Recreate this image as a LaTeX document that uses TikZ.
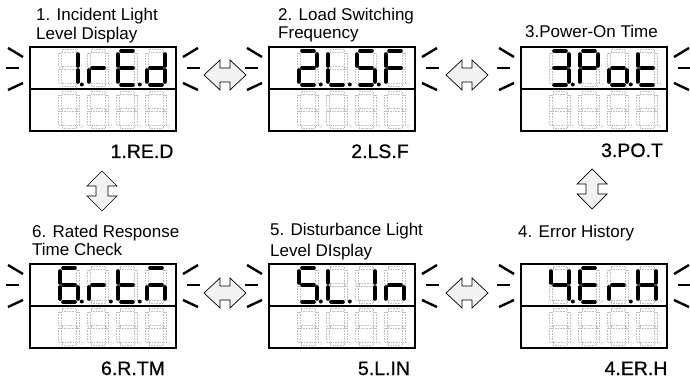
\documentclass[tikz,border=0pt]{standalone}
\usepackage{fontspec}
\setmainfont{Liberation Sans}
\newfontfamily\codefont[FakeBold=0.7]{Liberation Sans}
\tikzset{
  panel/.style={draw, line width=2.6pt, minimum width=146pt, minimum height=84pt, inner sep=0pt, outer sep=0pt, anchor=north west},
  divider/.style={line width=2.4pt},
  ray/.style={line width=2.4pt},
  litseg/.style={line width=3.6pt, line cap=round},
  unlitseg/.style={line width=0.5pt, gray!50, dash pattern=on 0.6pt off 1pt},
  fatarrow/.style={draw, line width=0.7pt, fill=gray!10, line join=miter},
  title/.style={font=\fontsize{17}{19}\selectfont, inner sep=0pt, anchor=base west},
  code/.style={font=\codefont\fontsize{19.5}{22}\selectfont, inner sep=0pt, anchor=base},
}
\makeatletter
\newcommand\sgm[3]{\ifnum#1=1 \draw[litseg] #2;\else\draw[unlitseg] #3;\fi}
\def\seg@draw#1#2#3#4#5#6#7#8\relax{%
  \sgm{#1}{(3,0)--(15,0)}{(2,-1.5) rectangle (16,1.5)}%
  \sgm{#2}{(18,3)--(18,15)}{(16.5,2) rectangle (19.5,16)}%
  \sgm{#3}{(18,19)--(18,31)}{(16.5,18) rectangle (19.5,32)}%
  \sgm{#4}{(3,34)--(15,34)}{(2,32.5) rectangle (16,35.5)}%
  \sgm{#5}{(0,19)--(0,31)}{(-1.5,18) rectangle (1.5,32)}%
  \sgm{#6}{(0,3)--(0,15)}{(-1.5,2) rectangle (1.5,16)}%
  \sgm{#7}{(3,17)--(15,17)}{(2,15.5) rectangle (16,18.5)}%
  \ifnum#8=1 \fill (21.8,33.5) circle (2);\else\draw[unlitseg] (21.8,33.5) circle (1.7);\fi
}
\newcommand\segdigit[3]{\begin{scope}[shift={(#1,#2)}]\seg@draw#3\relax\end{scope}}
\makeatother
\newcommand\panelbox[7]{%
  \node[panel] (#1) at (#2,#3) {};
  \draw[divider] (#1.west) -- (#1.east);
  \segdigit{#2+30}{#3+4}{#4}
  \segdigit{#2+59}{#3+4}{#5}
  \segdigit{#2+88}{#3+4}{#6}
  \segdigit{#2+117}{#3+4}{#7}
  \foreach \k in {30,59,88,117} {\segdigit{#2+\k}{#3+46}{00000000}}
  \draw[ray] (#2-22,#3+1) -- (#2-7,#3+10);
  \draw[ray] (#2-24,#3+21) -- (#2-11,#3+21);
  \draw[ray] (#2-22,#3+43) -- (#2-7,#3+36);
  \draw[ray] (#2+153,#3+10) -- (#2+168,#3+1);
  \draw[ray] (#2+157,#3+21) -- (#2+170,#3+21);
  \draw[ray] (#2+153,#3+36) -- (#2+168,#3+43);
}
\newcommand\hdbl[2]{\draw[fatarrow] (#1-21,#2) -- (#1-5,#2-15) -- (#1-5,#2-7) -- (#1+5,#2-7) -- (#1+5,#2-15) -- (#1+21,#2) -- (#1+5,#2+15) -- (#1+5,#2+7) -- (#1-5,#2+7) -- (#1-5,#2+15) -- cycle;}
\newcommand\vdbl[2]{\draw[fatarrow] (#1,#2-20) -- (#1+15,#2-5) -- (#1+6,#2-5) -- (#1+6,#2+5) -- (#1+15,#2+5) -- (#1,#2+20) -- (#1-15,#2+5) -- (#1-6,#2+5) -- (#1-6,#2-5) -- (#1-15,#2-5) -- cycle;}
\begin{document}
\begin{tikzpicture}[x=1pt,y=-1pt]
\useasboundingbox (0,0) rectangle (690,379);
% panels
\panelbox{p1}{30}{47}{01100001}{00001010}{10011111}{01111010}
\panelbox{p2}{269}{47}{11011011}{00011101}{10110111}{10001110}
\panelbox{p3}{521}{47}{11110011}{11001110}{00111011}{00011110}
\panelbox{p6}{30}{264}{10111111}{00001011}{00011111}{10101010}
\panelbox{p5}{269}{264}{10110111}{00011101}{01100000}{00101010}
\panelbox{p4}{521}{264}{01100111}{10011110}{00001011}{01101110}
% arrows
\hdbl{225}{75}
\hdbl{467}{75}
\hdbl{225}{293}
\hdbl{467}{293}
\vdbl{102}{191}
\vdbl{592}{189}
% titles
\node[title] (t1a) at (36,21) {1. Incident Light};
\node[title] (t1b) at (36,40) {Level Display};
\node[title] (t2a) at (278,21) {2. Load Switching};
\node[title] (t2b) at (278,39) {Frequency};
\node[title] (t3) at (525,38) {3.Power-On Time};
\node[title] (t6a) at (32,237) {6. Rated Response};
\node[title] (t6b) at (32,255) {Time Check};
\node[title] (t5a) at (270,236) {5. Disturbance Light};
\node[title] (t5b) at (270,256) {Level DIsplay};
\node[title] (t4) at (518,237) {4. Error History};
% codes
\node[code] (c1) at (142,158) {1.RE.D};
\node[code] (c2) at (380,158) {2.LS.F};
\node[code] (c3) at (632,157) {3.PO.T};
\node[code] (c6) at (133,375) {6.R.TM};
\node[code] (c5) at (384,375) {5.L.IN};
\node[code] (c4) at (636,375) {4.ER.H};
\end{tikzpicture}
\end{document}
